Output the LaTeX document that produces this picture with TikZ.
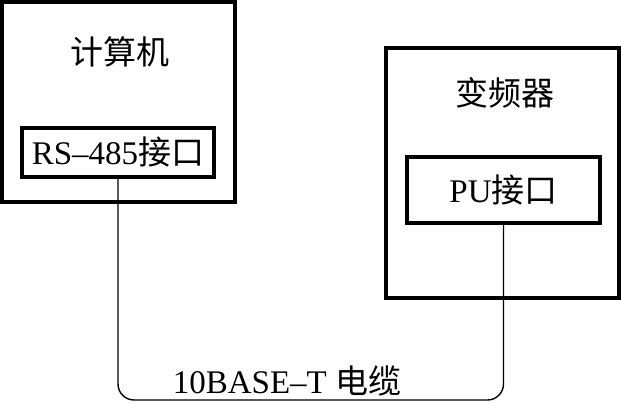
\documentclass[tikz,border=0pt]{standalone}
\usepackage{fontspec}
\setmainfont{Liberation Serif}
\newfontfamily\cjk{Noto Sans CJK SC}
\usepackage{tikz}
\usetikzlibrary{calc}

\begin{document}
\begin{tikzpicture}[x=1pt,y=-1pt,
    box/.style={draw,line width=3.2pt,inner sep=0pt},
    lbl/.style={font=\fontsize{33}{35}\selectfont},
    cable/.style={line width=1.4pt,rounded corners=16pt}]
    \useasboundingbox (0,0) rectangle (621,404);
    \node[box,minimum width=233pt,minimum height=200pt] (pc) at (118.5,102) {};
    \node[lbl] (pctitle) at (120,52) {\cjk 计算机};
    \node[box,minimum width=192pt,minimum height=49pt,lbl] (rs) at (118,152.5) {RS–485{\cjk 接口}};
    \node[box,minimum width=233pt,minimum height=250pt] (vfd) at (502.5,173) {};
    \node[lbl] (vfdtitle) at (505,93) {\cjk 变频器};
    \node[box,minimum width=193pt,minimum height=66pt,lbl] (pu) at (503.5,190) {PU{\cjk 接口}};
    \coordinate (bend) at (503.5,400);
    \draw[cable] (rs.south) |- (bend) -- (pu.south);
    \node[lbl] (cablelbl) at (287,381) {10BASE–T {\cjk 电缆}};
\end{tikzpicture}
\end{document}
